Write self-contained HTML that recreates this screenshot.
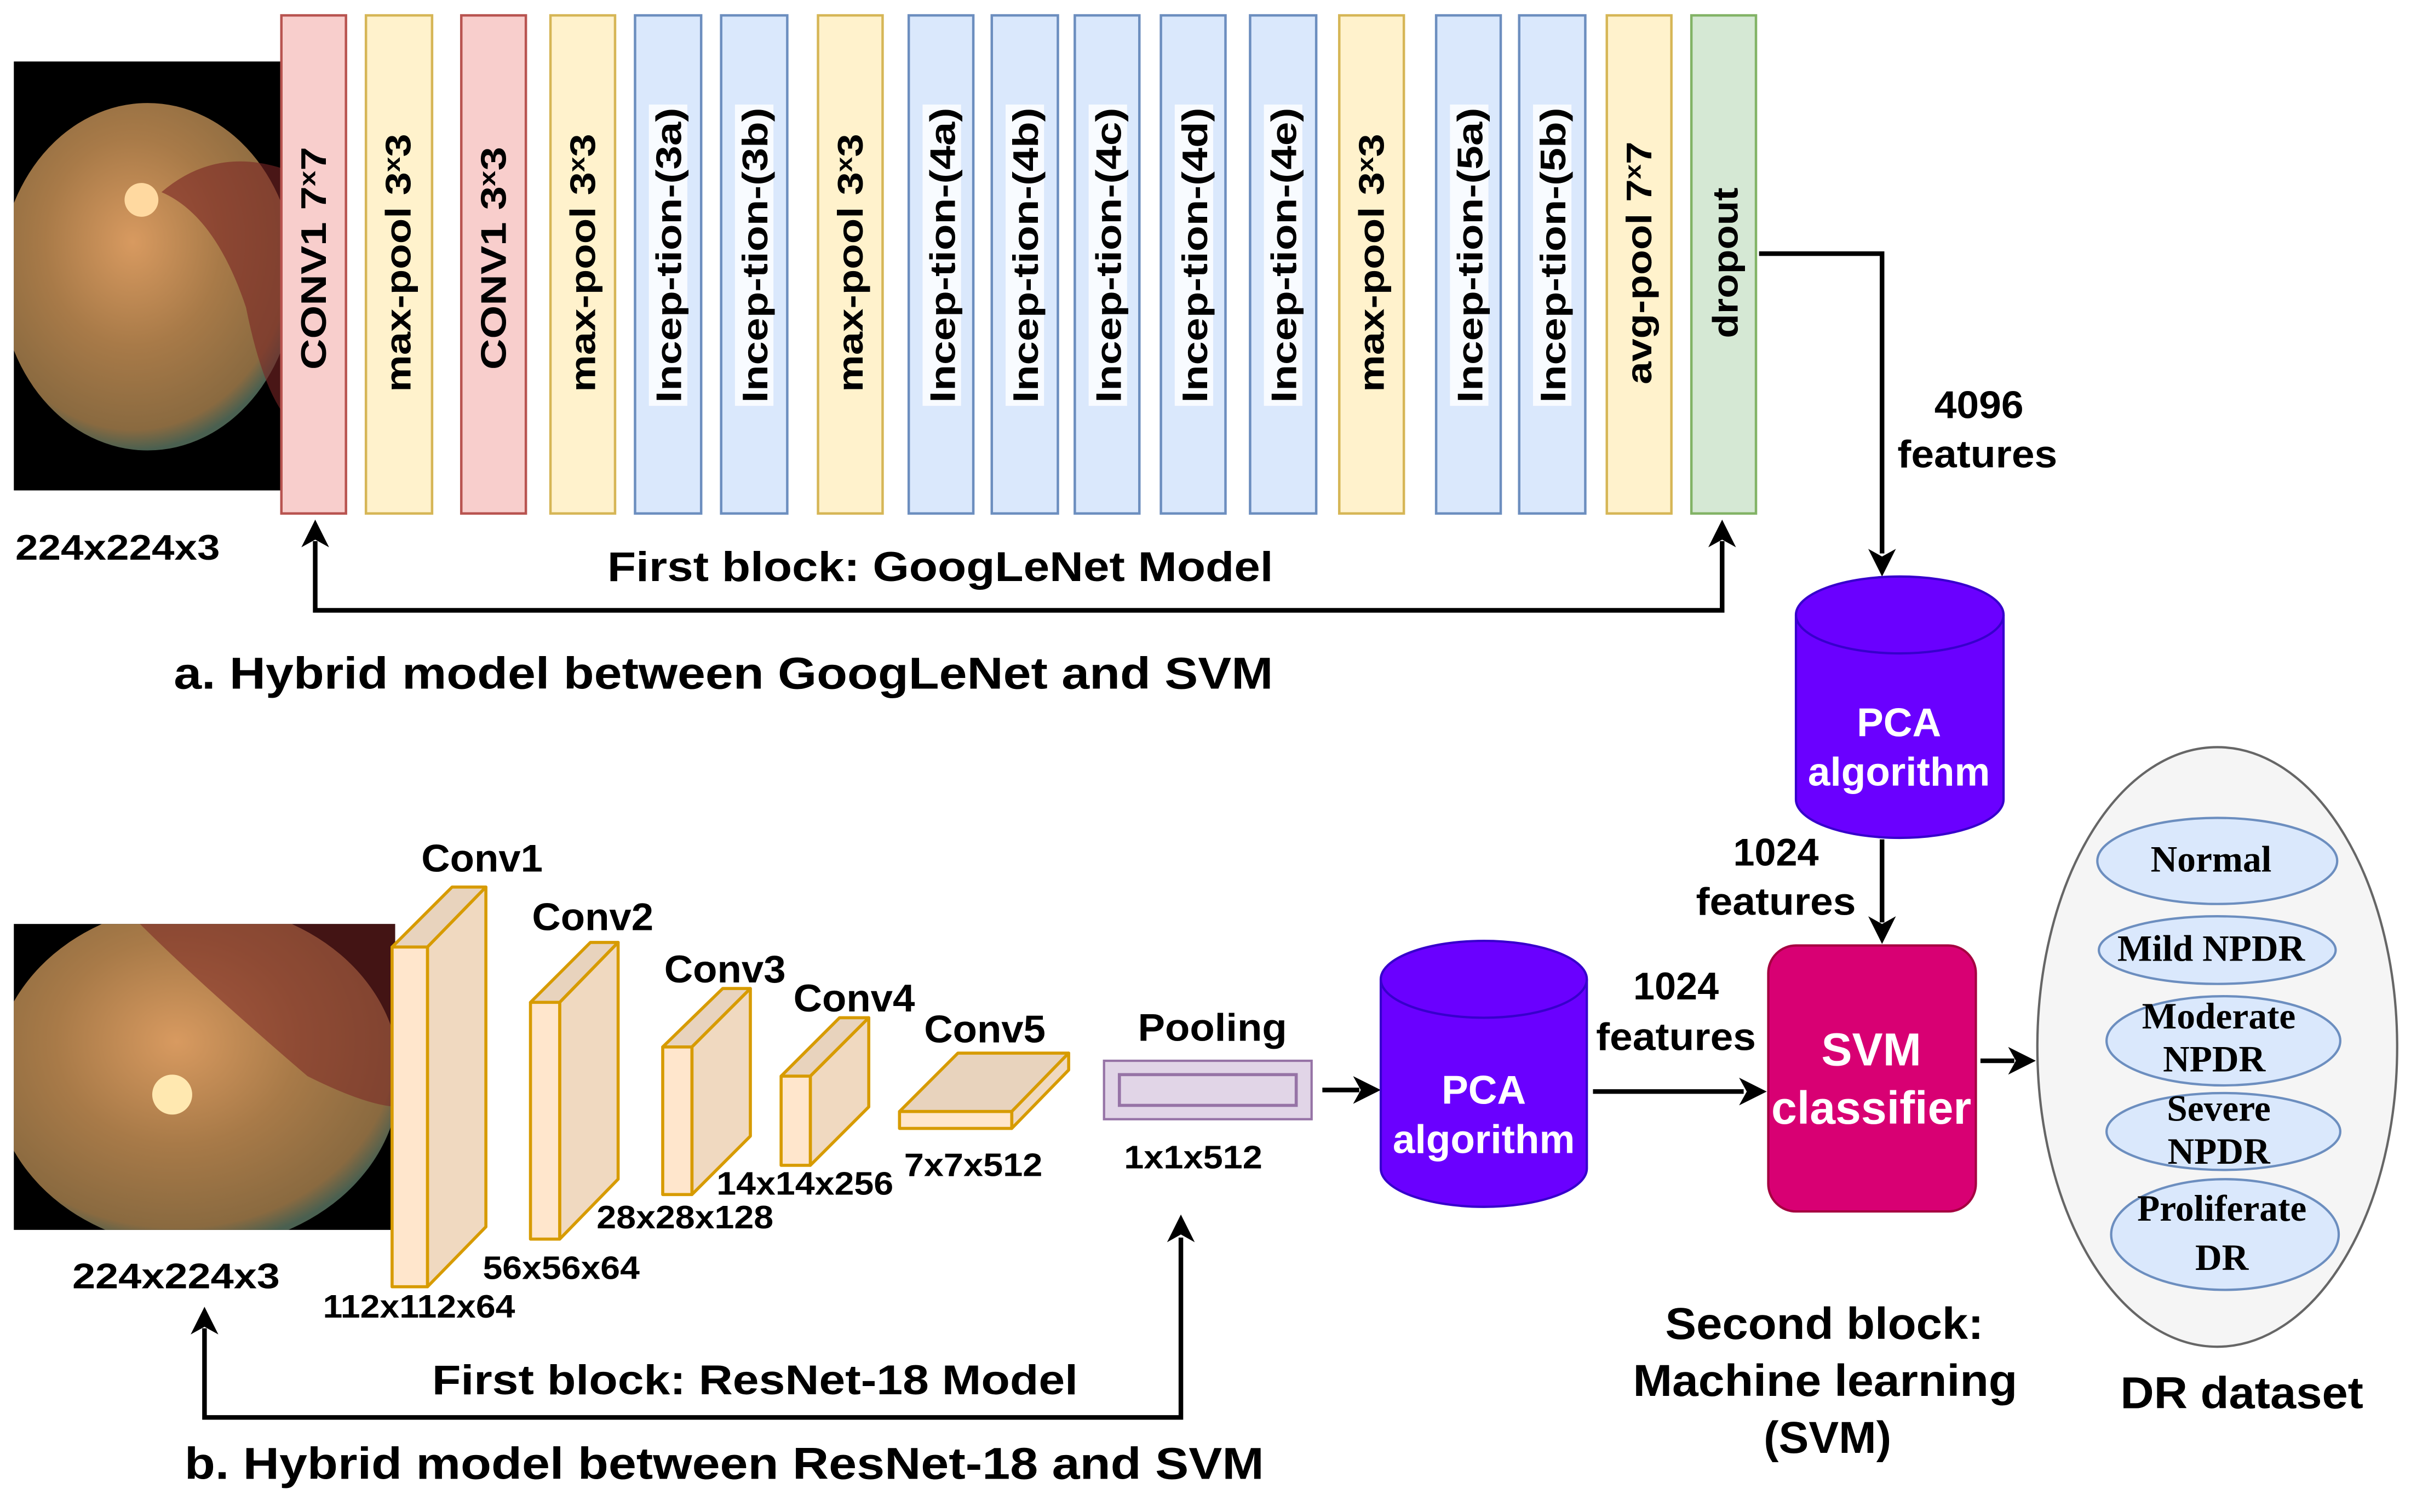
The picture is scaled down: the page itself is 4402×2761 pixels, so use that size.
<!DOCTYPE html>
<html><head><meta charset="utf-8"><style>
html,body{margin:0;padding:0;background:#fff;}
svg{display:block;}
text{font-family:"Liberation Sans",Arial,sans-serif;font-weight:bold;fill:#000;}
.s{font-family:"Liberation Serif",serif;}
</style></head><body>
<svg width="4402" height="2761" viewBox="0 0 1568 983.5" preserveAspectRatio="none" xmlns="http://www.w3.org/2000/svg">
<defs>
<radialGradient id="fg" cx="0.45" cy="0.4" r="0.6">
<stop offset="0" stop-color="#d89a60"/><stop offset="0.5" stop-color="#a87a48"/><stop offset="0.9" stop-color="#8a6a40"/><stop offset="1" stop-color="#4a6050"/>
</radialGradient>
<clipPath id="c1"><rect x="9" y="40" width="176" height="279"/></clipPath>
<clipPath id="c2"><rect x="9" y="601" width="248" height="199"/></clipPath>
</defs>
<rect width="1568" height="983.5" fill="#fff"/>
<rect x="9" y="40" width="176" height="279" fill="#000"/>
<g clip-path="url(#c1)">
<ellipse cx="96" cy="180" rx="96" ry="113" fill="url(#fg)"/>
<path d="M105 125 Q140 140 160 200 Q170 250 185 270 L185 110 Q140 95 105 125 Z" fill="#7a2525" opacity="0.6"/>
<circle cx="92" cy="130" r="11" fill="#ffd9a0"/>
</g>
<rect x="9" y="601" width="248" height="199" fill="#000"/>
<g clip-path="url(#c2)">
<ellipse cx="128" cy="700" rx="132" ry="112" fill="url(#fg)"/>
<path d="M90 600 Q130 640 200 700 Q240 720 260 720 L260 600 Z" fill="#7a2525" opacity="0.55"/>
<circle cx="112" cy="712" r="13" fill="#ffe8b0"/>
</g>
<g stroke-width="1.6">
<rect x="183" y="10" width="42" height="324" fill="#f8cecc" stroke="#b85450"/>
<rect x="238" y="10" width="43" height="324" fill="#fff2cc" stroke="#d6b656"/>
<rect x="300" y="10" width="42" height="324" fill="#f8cecc" stroke="#b85450"/>
<rect x="358" y="10" width="42" height="324" fill="#fff2cc" stroke="#d6b656"/>
<rect x="413" y="10" width="43" height="324" fill="#dae8fc" stroke="#6c8ebf"/>
<rect x="469" y="10" width="43" height="324" fill="#dae8fc" stroke="#6c8ebf"/>
<rect x="532" y="10" width="42" height="324" fill="#fff2cc" stroke="#d6b656"/>
<rect x="591" y="10" width="42" height="324" fill="#dae8fc" stroke="#6c8ebf"/>
<rect x="645" y="10" width="43" height="324" fill="#dae8fc" stroke="#6c8ebf"/>
<rect x="699" y="10" width="42" height="324" fill="#dae8fc" stroke="#6c8ebf"/>
<rect x="755" y="10" width="42" height="324" fill="#dae8fc" stroke="#6c8ebf"/>
<rect x="813" y="10" width="43" height="324" fill="#dae8fc" stroke="#6c8ebf"/>
<rect x="871" y="10" width="42" height="324" fill="#fff2cc" stroke="#d6b656"/>
<rect x="934" y="10" width="42" height="324" fill="#dae8fc" stroke="#6c8ebf"/>
<rect x="988" y="10" width="43" height="324" fill="#dae8fc" stroke="#6c8ebf"/>
<rect x="1045" y="10" width="42" height="324" fill="#fff2cc" stroke="#d6b656"/>
<rect x="1100" y="10" width="42" height="324" fill="#d5e8d4" stroke="#82b366"/>
</g>
<g fill="#f8fbff">
<rect x="422" y="68" width="25" height="196"/><rect x="478" y="68" width="25" height="196"/>
<rect x="600" y="68" width="25" height="196"/><rect x="654" y="68" width="25" height="196"/>
<rect x="708" y="68" width="25" height="196"/><rect x="764" y="68" width="25" height="196"/>
<rect x="822" y="68" width="25" height="196"/><rect x="943" y="68" width="25" height="196"/>
<rect x="997" y="68" width="25" height="196"/>
</g>
<g font-size="23" text-anchor="middle">
<text transform="translate(212,168) rotate(-90)" textLength="145" lengthAdjust="spacingAndGlyphs">CONV1 7<tspan font-size="15" dy="-7">x</tspan><tspan dy="7">7</tspan></text>
<text transform="translate(267,171) rotate(-90)" textLength="168" lengthAdjust="spacingAndGlyphs">max-pool 3<tspan font-size="15" dy="-7">x</tspan><tspan dy="7">3</tspan></text>
<text transform="translate(329,168) rotate(-90)" textLength="145" lengthAdjust="spacingAndGlyphs">CONV1 3<tspan font-size="15" dy="-7">x</tspan><tspan dy="7">3</tspan></text>
<text transform="translate(387,171) rotate(-90)" textLength="168" lengthAdjust="spacingAndGlyphs">max-pool 3<tspan font-size="15" dy="-7">x</tspan><tspan dy="7">3</tspan></text>
<text transform="translate(443,166) rotate(-90)" textLength="192" lengthAdjust="spacingAndGlyphs">Incep-tion-(3a)</text>
<text transform="translate(499,166) rotate(-90)" textLength="192" lengthAdjust="spacingAndGlyphs">Incep-tion-(3b)</text>
<text transform="translate(561,171) rotate(-90)" textLength="168" lengthAdjust="spacingAndGlyphs">max-pool 3<tspan font-size="15" dy="-7">x</tspan><tspan dy="7">3</tspan></text>
<text transform="translate(621,166) rotate(-90)" textLength="192" lengthAdjust="spacingAndGlyphs">Incep-tion-(4a)</text>
<text transform="translate(675,166) rotate(-90)" textLength="192" lengthAdjust="spacingAndGlyphs">Incep-tion-(4b)</text>
<text transform="translate(729,166) rotate(-90)" textLength="192" lengthAdjust="spacingAndGlyphs">Incep-tion-(4c)</text>
<text transform="translate(785,166) rotate(-90)" textLength="192" lengthAdjust="spacingAndGlyphs">Incep-tion-(4d)</text>
<text transform="translate(843,166) rotate(-90)" textLength="192" lengthAdjust="spacingAndGlyphs">Incep-tion-(4e)</text>
<text transform="translate(900,171) rotate(-90)" textLength="168" lengthAdjust="spacingAndGlyphs">max-pool 3<tspan font-size="15" dy="-7">x</tspan><tspan dy="7">3</tspan></text>
<text transform="translate(964,166) rotate(-90)" textLength="192" lengthAdjust="spacingAndGlyphs">Incep-tion-(5a)</text>
<text transform="translate(1018,166) rotate(-90)" textLength="192" lengthAdjust="spacingAndGlyphs">Incep-tion-(5b)</text>
<text transform="translate(1074,171) rotate(-90)" textLength="158" lengthAdjust="spacingAndGlyphs">avg-pool 7<tspan font-size="15" dy="-7">x</tspan><tspan dy="7">7</tspan></text>
<text transform="translate(1130,171) rotate(-90)" textLength="98" lengthAdjust="spacingAndGlyphs">dropout</text>
</g>
<g stroke="#000" stroke-width="3" fill="none">
<polyline points="205,352 205,397 1120,397 1120,352"/>
<polyline points="1144,165 1224,165 1224,360"/>
<line x1="1224" y1="546" x2="1224" y2="600"/>
<line x1="1288" y1="690" x2="1310" y2="690"/>
<line x1="860" y1="709" x2="884" y2="709"/>
<line x1="1036" y1="710" x2="1134" y2="710"/>
<polyline points="133,864 133,922 768,922 768,805"/>
</g>
<g fill="#000">
<path d="M205,338 l-9,18 l9,-5 l9,5 z"/>
<path d="M1120,338 l-9,18 l9,-5 l9,5 z"/>
<path d="M1224,375 l-9,-18 l9,5 l9,-5 z"/>
<path d="M1224,614 l-9,-18 l9,5 l9,-5 z"/>
<path d="M1324,690 l-18,-9 l5,9 l-5,9 z"/>
<path d="M898,709 l-18,-9 l5,9 l-5,9 z"/>
<path d="M1149,710 l-18,-9 l5,9 l-5,9 z"/>
<path d="M133,850 l-9,18 l9,-5 l9,5 z"/>
<path d="M768,790 l-9,18 l9,-5 l9,5 z"/>
</g>
<text x="10" y="364" font-size="23" textLength="133" lengthAdjust="spacingAndGlyphs">224x224x3</text>
<text x="395" y="378" font-size="27" textLength="433" lengthAdjust="spacingAndGlyphs">First block: GoogLeNet Model</text>
<text x="113" y="448" font-size="29" textLength="715" lengthAdjust="spacingAndGlyphs">a. Hybrid model between GoogLeNet and SVM</text>
<text x="1258" y="272" font-size="25" textLength="58" lengthAdjust="spacingAndGlyphs">4096</text>
<text x="1234" y="304" font-size="25" textLength="104" lengthAdjust="spacingAndGlyphs">features</text>
<path d="M1168,400 L1168,520 A67.5,25 0 0 0 1303,520 L1303,400 A67.5,25 0 0 0 1168,400 Z" fill="#6a00ff" stroke="#3700cc" stroke-width="1.5"/>
<path d="M1168,400 A67.5,25 0 0 0 1303,400" fill="none" stroke="#3700cc" stroke-width="1.5"/>
<text x="1235" y="479" font-size="26" text-anchor="middle" style="fill:#fff">PCA</text>
<text x="1235" y="511" font-size="26" text-anchor="middle" style="fill:#fff">algorithm</text>
<text x="1155" y="563" font-size="25" text-anchor="middle">1024</text>
<text x="1103" y="595" font-size="25" textLength="104" lengthAdjust="spacingAndGlyphs">features</text>
<rect x="1150" y="615" width="135" height="173" rx="18" fill="#d80073" stroke="#a50040" stroke-width="1.5"/>
<text x="1217" y="693" font-size="30" text-anchor="middle" style="fill:#fff">SVM</text>
<text x="1217" y="731" font-size="30" text-anchor="middle" style="fill:#fff">classifier</text>
<ellipse cx="1442" cy="681" rx="117" ry="195" fill="#f5f5f5" stroke="#666" stroke-width="1.5"/>
<g fill="#dae8fc" stroke="#6c8ebf" stroke-width="1.5">
<ellipse cx="1442" cy="560" rx="78" ry="28"/>
<ellipse cx="1442" cy="618" rx="77" ry="22"/>
<ellipse cx="1446" cy="677" rx="76" ry="29"/>
<ellipse cx="1446" cy="736" rx="76" ry="25"/>
<ellipse cx="1447" cy="803" rx="74" ry="36"/>
</g>
<g font-size="24" text-anchor="middle">
<text class="s" x="1438" y="567">Normal</text>
<text class="s" x="1438" y="625">Mild NPDR</text>
<text class="s" x="1443" y="669">Moderate</text>
<text class="s" x="1440" y="697">NPDR</text>
<text class="s" x="1443" y="729">Severe</text>
<text class="s" x="1443" y="757">NPDR</text>
<text class="s" x="1445" y="794">Proliferate</text>
<text class="s" x="1445" y="826">DR</text>
</g>
<text x="1379" y="916" font-size="29" textLength="158" lengthAdjust="spacingAndGlyphs">DR dataset</text>
<text x="1083" y="871" font-size="29" textLength="207" lengthAdjust="spacingAndGlyphs">Second block:</text>
<text x="1062" y="908" font-size="29" textLength="250" lengthAdjust="spacingAndGlyphs">Machine learning</text>
<text x="1147" y="945" font-size="29" textLength="83" lengthAdjust="spacingAndGlyphs">(SVM)</text>
<g stroke="#d79b00" stroke-width="2" stroke-linejoin="round">
<path d="M255,616 L294,577 L316,577 L278,616 Z" fill="#e8d3bd"/>
<path d="M278,616 L316,577 L316,798 L278,837 Z" fill="#f0d9c0"/>
<rect x="255" y="616" width="23" height="221" fill="#ffe6cc"/>
<path d="M345,652 L384,613 L402,613 L364,652 Z" fill="#e8d3bd"/>
<path d="M364,652 L402,613 L402,767 L364,806 Z" fill="#f0d9c0"/>
<rect x="345" y="652" width="19" height="154" fill="#ffe6cc"/>
<path d="M431,681 L470,643 L488,643 L450,681 Z" fill="#e8d3bd"/>
<path d="M450,681 L488,643 L488,739 L450,777 Z" fill="#f0d9c0"/>
<rect x="431" y="681" width="19" height="96" fill="#ffe6cc"/>
<path d="M508,700 L546,662 L565,662 L527,700 Z" fill="#e8d3bd"/>
<path d="M527,700 L565,662 L565,720 L527,758 Z" fill="#f0d9c0"/>
<rect x="508" y="700" width="19" height="58" fill="#ffe6cc"/>
<path d="M585,723 L623,685 L695,685 L658,723 Z" fill="#e8d3bd"/>
<path d="M658,723 L695,685 L695,696 L658,734 Z" fill="#f0d9c0"/>
<rect x="585" y="723" width="73" height="11" fill="#ffe6cc"/>
</g>
<text x="274" y="567" font-size="25" textLength="79" lengthAdjust="spacingAndGlyphs">Conv1</text>
<text x="346" y="605" font-size="25" textLength="79" lengthAdjust="spacingAndGlyphs">Conv2</text>
<text x="432" y="639" font-size="25" textLength="79" lengthAdjust="spacingAndGlyphs">Conv3</text>
<text x="516" y="658" font-size="25" textLength="79" lengthAdjust="spacingAndGlyphs">Conv4</text>
<text x="601" y="678" font-size="25" textLength="79" lengthAdjust="spacingAndGlyphs">Conv5</text>
<text x="740" y="677" font-size="25" textLength="97" lengthAdjust="spacingAndGlyphs">Pooling</text>
<text x="210" y="857" font-size="21" textLength="125" lengthAdjust="spacingAndGlyphs">112x112x64</text>
<text x="314" y="832" font-size="21" textLength="102" lengthAdjust="spacingAndGlyphs">56x56x64</text>
<text x="388" y="799" font-size="21" textLength="115" lengthAdjust="spacingAndGlyphs">28x28x128</text>
<text x="466" y="777" font-size="21" textLength="115" lengthAdjust="spacingAndGlyphs">14x14x256</text>
<text x="588" y="765" font-size="21" textLength="90" lengthAdjust="spacingAndGlyphs">7x7x512</text>
<text x="731" y="760" font-size="21" textLength="90" lengthAdjust="spacingAndGlyphs">1x1x512</text>
<rect x="718" y="690" width="135" height="38" fill="#e1d5e7" stroke="#9673a6" stroke-width="1.5"/>
<rect x="728" y="699" width="115" height="20" fill="#e1d5e7" stroke="#9673a6" stroke-width="2"/>
<path d="M898,637 L898,760 A67,25 0 0 0 1032,760 L1032,637 A67,25 0 0 0 898,637 Z" fill="#6a00ff" stroke="#3700cc" stroke-width="1.5"/>
<path d="M898,637 A67,25 0 0 0 1032,637" fill="none" stroke="#3700cc" stroke-width="1.5"/>
<text x="965" y="718" font-size="26" text-anchor="middle" style="fill:#fff">PCA</text>
<text x="965" y="750" font-size="26" text-anchor="middle" style="fill:#fff">algorithm</text>
<text x="1090" y="650" font-size="25" text-anchor="middle">1024</text>
<text x="1038" y="683" font-size="25" textLength="104" lengthAdjust="spacingAndGlyphs">features</text>
<text x="47" y="838" font-size="23" textLength="135" lengthAdjust="spacingAndGlyphs">224x224x3</text>
<text x="281" y="907" font-size="27" textLength="420" lengthAdjust="spacingAndGlyphs">First block: ResNet-18 Model</text>
<text x="120" y="962" font-size="29" textLength="702" lengthAdjust="spacingAndGlyphs">b. Hybrid model between ResNet-18 and SVM</text>
</svg>
</body></html>
